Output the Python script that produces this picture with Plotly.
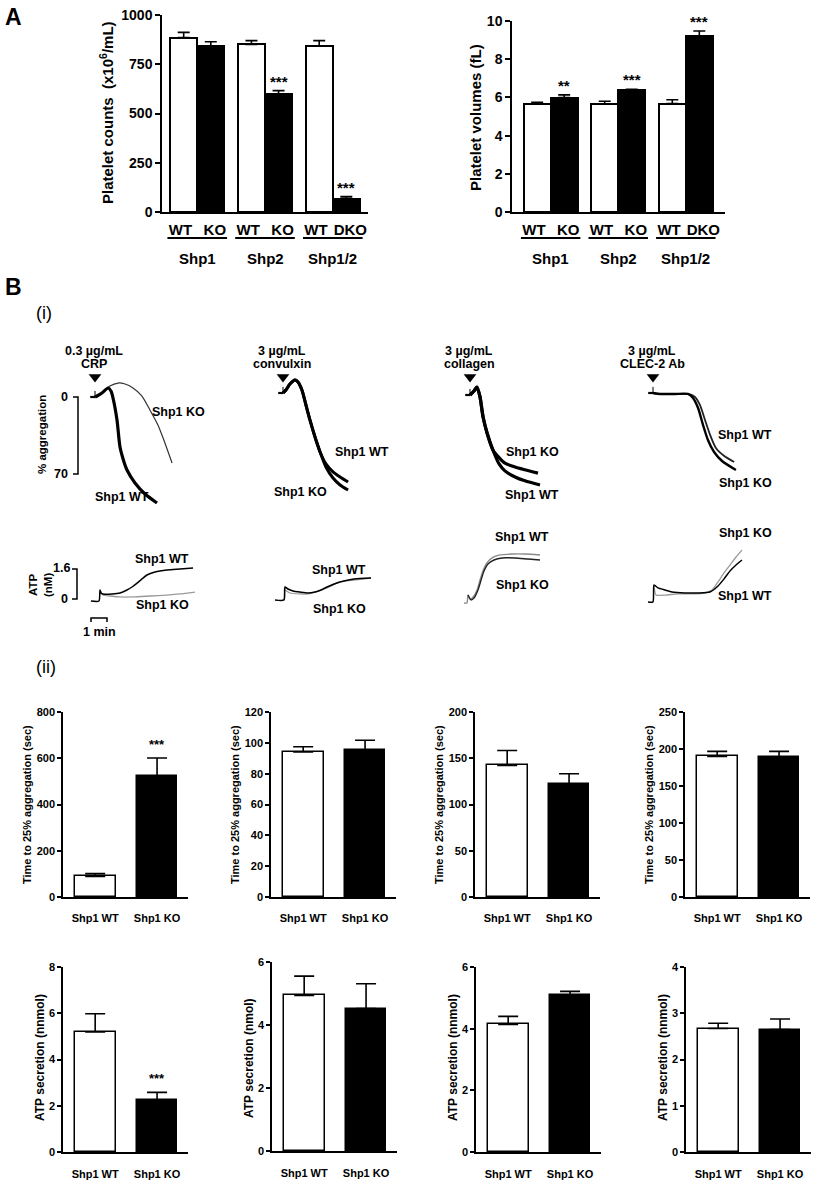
import plotly.graph_objects as go

W, H = 815, 1182
FONT = "Arial, Liberation Sans, Helvetica, sans-serif"

# ---------------- Panel A data ----------------
A_LABELS = ["WT", "KO", "WT", "KO", "WT", "DKO"]
A_POS = [0, 1, 2.5, 3.5, 5, 6]
A_GROUPS = ["Shp1", "Shp2", "Shp1/2"]
A_FILL = ["white", "black", "white", "black", "white", "black"]
COUNT_MEAN = [885, 843, 851, 599, 843, 68]
COUNT_ERR = [27, 21, 19, 17, 27, 10]
COUNT_SIG = ["", "", "", "***", "", "***"]
VOL_MEAN = [5.65, 5.99, 5.65, 6.38, 5.68, 9.23]
VOL_ERR = [0.09, 0.14, 0.15, 0.05, 0.2, 0.25]
VOL_SIG = ["", "**", "", "***", "", "***"]

# ---------------- Panel B(i) aggregation traces (t in s, % aggregation) ----------------
CRP_WT_T = [0, 7.5, 26, 49, 60, 67.5, 82.5, 93.75, 108.75, 120, 150, 187.5, 232.5]
CRP_WT_AGG = [0, -0.9, -3.6, -8.2, -5.5, 0.9, 20.9, 45.5, 59, 66.4, 78.2, 88.2, 96.4]
CRP_KO_T = [0, 7.5, 30, 56, 86, 112.5, 142.5, 176, 206, 236, 262.5, 289]
CRP_KO_AGG = [0, -0.9, -4.5, -10, -12.7, -11.8, -8.2, -0.9, 11.8, 25.5, 42, 60]

CVX_WT_T = [0, 11, 26, 45, 56, 71, 86, 101, 120, 139, 161, 187.5, 214, 244]
CVX_WT_AGG = [0, -2.7, -8.2, -11.8, -10, -2.7, 10.9, 24.5, 40, 53.6, 64.5, 71.8, 76.4, 81]
CVX_KO_T = [0, 11, 26, 45, 56, 71, 86, 101, 120, 139, 161, 187.5, 214, 244]
CVX_KO_AGG = [0, -2.7, -8.2, -11.8, -10, -2.7, 10.9, 24.5, 40, 53.6, 67.3, 77.3, 83.6, 88.2]

COL_KO_T = [0, 15, 26, 37.5, 49, 64, 86, 109, 131, 169, 206, 255]
COL_KO_AGG = [0, -3.6, -7.3, 1.8, 20, 34.5, 50, 57, 62, 65.5, 68, 71]
COL_WT_T = [0, 15, 26, 37.5, 49, 64, 86, 109, 131, 169, 206, 262.5]
COL_WT_AGG = [0, -3.6, -7.3, 1.8, 20, 34.5, 50, 62.7, 69, 74.5, 78, 81.8]

CLEC_WT_T = [0, 26, 82.5, 131, 157.5, 176, 195, 214, 236, 266, 304]
CLEC_WT_AGG = [0, 0.9, 0.9, 0.9, 3.6, 10.9, 24.5, 38, 50, 57, 62.7]
CLEC_KO_T = [0, 26, 82.5, 131, 150, 169, 187.5, 206, 229, 259, 311]
CLEC_KO_AGG = [0, 0.9, 0.9, 0.9, 4.5, 13.6, 29, 42.7, 53.6, 61.8, 70]

AGG_PRE_T = [-18, 0]
AGG_PRE = [0, 0]

# ---------------- Panel B(i) ATP traces (t in s, nM) ----------------
ATP_CRP_WT_T = [-34, -4, 0, 4, 11, 45, 75, 101, 120, 139, 157.5, 176, 206, 251, 300, 349]
ATP_CRP_WT = [-0.11, -0.11, 0.48, 0.32, 0.27, 0.27, 0.32, 0.48, 0.64, 0.85, 1.07, 1.28, 1.44, 1.55, 1.6, 1.65]
ATP_CRP_KO_T = [0, 11, 37.5, 75, 124, 187.5, 251, 300, 356]
ATP_CRP_KO = [0.48, 0.21, 0.16, 0.11, 0.11, 0.16, 0.21, 0.27, 0.37]

ATP_CVX_WT_T = [-37.5, -4, 0, 11, 30, 56, 86, 112.5, 135, 157.5, 184, 206, 259, 322.5]
ATP_CVX_WT = [-0.05, -0.05, 0.64, 0.53, 0.43, 0.37, 0.32, 0.37, 0.48, 0.64, 0.8, 0.91, 1.07, 1.12]
ATP_CVX_KO_T = [0, 19, 56, 86, 112.5, 157.5, 206, 259, 322.5]
ATP_CVX_KO = [0.48, 0.32, 0.27, 0.27, 0.37, 0.59, 0.91, 1.01, 1.12]

ATP_COL_A_T = [-15, -4, 0, 7.5, 19, 34, 45, 56, 71, 90, 120, 165, 214, 270]
ATP_COL_A = [-0.21, -0.21, 0.21, 0, 0.11, 0.48, 1.01, 1.49, 1.92, 2.19, 2.35, 2.4, 2.4, 2.35]
ATP_COL_B_T = [0, 11, 22.5, 37.5, 49, 60, 75, 97.5, 127.5, 176, 225, 270]
ATP_COL_B = [0.21, -0.05, 0.05, 0.48, 1.01, 1.49, 1.87, 2.08, 2.19, 2.19, 2.13, 2.08]

ATP_CLEC_WT_T = [-22.5, -4, 0, 15, 41, 67.5, 116, 165, 210, 240, 262.5, 285, 307.5, 330]
ATP_CLEC_WT = [-0.16, -0.16, 0.75, 0.59, 0.48, 0.37, 0.32, 0.32, 0.37, 0.69, 1.07, 1.49, 1.81, 2.08]
ATP_CLEC_KO_T = [0, 7.5, 41, 90, 135, 191, 217.5, 240, 262.5, 285, 307.5, 330]
ATP_CLEC_KO = [0.75, 0.21, 0.21, 0.27, 0.27, 0.32, 0.48, 0.91, 1.39, 1.81, 2.24, 2.61]

AGG_SCALE = [0, 70]
ATP_SCALE = [0, 1.6]
TIME_SCALE_S = 60

# ---------------- Panel B(ii) data ----------------
GENO = ["Shp1 WT", "Shp1 KO"]
TIME_MEAN = [[89, 523], [94.1, 95.2], [142.3, 121.8], [190, 189.2]]
TIME_ERR = [[12, 78], [3.4, 6.5], [16, 11.5], [6.8, 7.6]]
TIME_SIG = [["", "***"], ["", ""], ["", ""], ["", ""]]
TIME_MAX = [800, 120, 200, 250]
TIME_DTICK = [200, 20, 50, 50]
ATP_MEAN = [[5.19, 2.23], [4.94, 4.52], [4.14, 5.08], [2.67, 2.645]]
ATP_ERR = [[0.79, 0.35], [0.61, 0.79], [0.26, 0.13], [0.115, 0.23]]
ATP_SIG = [["", "***"], ["", ""], ["", ""], ["", ""]]
ATP_MAX = [8, 6, 6, 4]
ATP_DTICK = [2, 2, 2, 1]
ATP_TITLES = ["ATP secretion (nnmol)", "ATP secretion (nmol)",
              "ATP secretion (nnmol)", "ATP secretion (nnmol)"]

# ---------------- helpers ----------------
fig = go.Figure()
layout = {}
annotations = []
shapes = []


def refs(n):
    return ("x", "y") if n == 1 else (f"x{n}", f"y{n}")


def axes(n, L, R, T, B, xr, yr, xkw=None, ykw=None):
    xk = "xaxis" if n == 1 else f"xaxis{n}"
    yk = "yaxis" if n == 1 else f"yaxis{n}"
    rx, ry = refs(n)
    layout[xk] = dict(domain=[L / W, R / W], range=xr, anchor=ry, automargin=False, **(xkw or {}))
    layout[yk] = dict(domain=[1 - B / H, 1 - T / H], range=yr, anchor=rx, automargin=False, **(ykw or {}))
    return rx, ry


def ann(x, y, text, size=12, bold=True, xanchor="center", yanchor="middle", **kw):
    annotations.append(dict(
        x=x / W, y=1 - y / H, xref="paper", yref="paper", text=text, showarrow=False,
        xanchor=xanchor, yanchor=yanchor,
        font=dict(family=FONT, size=size, color="black", weight="bold" if bold else "normal"),
        **kw))


def bar_x(size, standoff, vals, texts):
    return dict(showline=True, linecolor="black", linewidth=1.5, ticks="", showgrid=False,
                zeroline=False, tickvals=vals, ticktext=texts, ticklabelstandoff=standoff,
                tickangle=0,
                tickfont=dict(family=FONT, size=size, color="black", weight="bold"))


def bar_y(size, dtick, ticklen=5):
    return dict(showline=True, linecolor="black", linewidth=1.5, ticks="outside", ticklen=ticklen,
                tickwidth=1.5, tickcolor="black", showgrid=False, zeroline=False, dtick=dtick,
                tickfont=dict(family=FONT, size=size, color="black", weight="bold"))


def add_bars(n, pos, means, errs, fills, width, capw, sig, sig_size, sig_shift, lw=1.5):
    rx, ry = refs(n)
    fig.add_trace(go.Bar(
        x=pos, y=means, width=width, xaxis=rx, yaxis=ry,
        marker=dict(color=fills, line=dict(color="black", width=lw)),
        error_y=dict(type="data", array=errs, arrayminus=[0] * len(errs), symmetric=False,
                     color="black", thickness=1.6, width=capw)))
    for p, m, e, s in zip(pos, means, errs, sig):
        if s:
            annotations.append(dict(
                x=p, y=m + e, xref=rx, yref=ry, text=s, showarrow=False, yanchor="bottom",
                yshift=sig_shift, font=dict(family=FONT, size=sig_size, color="black", weight="bold")))


# ---------------- Panel A ----------------
# tick labels sit slightly apart from the bar centres (WT left, KO right)
A_TICKS = [p + (-0.12 if k % 2 == 0 else 0.15) for k, p in enumerate(A_POS)]
axes(1, 162, 368, 15, 212, [-0.8, 6.8], [0, 1000],
     bar_x(15, 3, A_TICKS, A_LABELS), bar_y(14, 250))
add_bars(1, A_POS, COUNT_MEAN, COUNT_ERR, A_FILL, 1.0, 6, COUNT_SIG, 15, -1, lw=2)
axes(2, 512, 725, 21, 212, [-0.93, 6.95], [0, 10],
     bar_x(15, 3, A_TICKS, A_LABELS), bar_y(14, 2))
add_bars(2, A_POS, VOL_MEAN, VOL_ERR, A_FILL, 1.0, 6, VOL_SIG, 15, -1, lw=2)

for n in (1, 2):
    rx, ry = refs(n)
    for g, name in enumerate(A_GROUPS):
        c = (A_POS[2 * g] + A_POS[2 * g + 1]) / 2
        shapes.append(dict(type="line", xref=rx, yref="paper", x0=c - 1.1, x1=c + 1.1,
                           y0=1 - 238 / H, y1=1 - 238 / H, line=dict(color="black", width=2)))
        annotations.append(dict(x=c, y=1 - 258 / H, xref=rx, yref="paper", text=name,
                                showarrow=False, yanchor="middle",
                                font=dict(family=FONT, size=15, color="black", weight="bold")))

ann(107, 113, "Platelet counts  (x10<sup>6</sup>/mL)", size=15, textangle=-90)
ann(475, 118, "Platelet volumes (fL)", size=15, textangle=-90)
ann(3, 17, "A", size=23, xanchor="left")
ann(3, 287, "B", size=23, xanchor="left")
ann(34, 313, "(i)", size=18, bold=False, xanchor="left")
ann(34, 667, "(ii)", size=18, bold=False, xanchor="left")

# ---------------- Panel B(i) aggregation ----------------
SX = 16 / 60.0     # px per second
SY = 77 / 70.0     # px per % aggregation
SA = 30 / 1.6      # px per nM ATP

AGG_PANELS = [
    (95, 397, 55, 205, ["0.3 µg/mL", "CRP"],
     [(CRP_KO_T, CRP_KO_AGG, "#333333", 1.2), (CRP_WT_T, CRP_WT_AGG, "black", 3.2)],
     [("Shp1 KO", 178, 412), ("Shp1 WT", 122, 497)]),
    (283, 393, 255, 395, ["3 µg/mL", "convulxin"],
     [(CVX_KO_T, CVX_KO_AGG, "black", 3.0), (CVX_WT_T, CVX_WT_AGG, "black", 3.0)],
     [("Shp1 WT", 362, 452), ("Shp1 KO", 300, 492)]),
    (470, 395, 445, 585, ["3 µg/mL", "collagen"],
     [(COL_KO_T, COL_KO_AGG, "black", 3.2), (COL_WT_T, COL_WT_AGG, "black", 3.2)],
     [("Shp1 KO", 532, 452), ("Shp1 WT", 532, 495)]),
    (653, 393, 625, 775, ["3 µg/mL", "CLEC-2 Ab"],
     [(CLEC_WT_T, CLEC_WT_AGG, "#222222", 1.8), (CLEC_KO_T, CLEC_KO_AGG, "black", 2.4)],
     [("Shp1 WT", 745, 435), ("Shp1 KO", 745, 483)]),
]
T_AGG, B_AGG = 330, 515
for i, (t0, y0, L, R, agon, traces, labels) in enumerate(AGG_PANELS):
    n = 3 + i
    rx, ry = axes(n, L, R, T_AGG, B_AGG, [(L - t0) / SX, (R - t0) / SX],
                  [(B_AGG - y0) / SY, (T_AGG - y0) / SY],
                  dict(visible=False), dict(visible=False))
    fig.add_trace(go.Scatter(x=AGG_PRE_T, y=AGG_PRE, mode="lines", xaxis=rx, yaxis=ry,
                             line=dict(color="black", width=2.2)))
    fig.add_trace(go.Scatter(x=[0, 0], y=[0, -5.5], mode="lines", xaxis=rx, yaxis=ry,
                             line=dict(color="black", width=1)))
    for tt, yy, col, lw in traces:
        fig.add_trace(go.Scatter(x=tt, y=yy, mode="lines", xaxis=rx, yaxis=ry,
                                 line=dict(color=col, width=lw, shape="spline", smoothing=0.7)))
    fig.add_trace(go.Scatter(x=[0], y=[(377 - y0) / SY], mode="markers", xaxis=rx, yaxis=ry,
                             marker=dict(symbol="triangle-down", size=11, color="black")))
    ann(t0 - 1, 351, agon[0], size=12.5)
    ann(t0 - 1, 364, agon[1], size=12.5)
    for txt, lx, ly in labels:
        ann(lx, ly, txt, size=12.5)

# aggregation scale bar (in CRP panel)
rx, ry = refs(3)
sbx = (78 - 95) / SX
sbt = (73 - 95) / SX
fig.add_trace(go.Scatter(x=[sbt, sbx, sbx, sbt], y=[AGG_SCALE[0], AGG_SCALE[0], AGG_SCALE[1], AGG_SCALE[1]],
                         mode="lines", xaxis=rx, yaxis=ry, line=dict(color="black", width=1.5)))
ann(70, 397, str(AGG_SCALE[0]), size=12.5, xanchor="right")
ann(70, 474, str(AGG_SCALE[1]), size=12.5, xanchor="right")
ann(42, 435, "% aggregation", size=11.5, textangle=-90)

# ---------------- Panel B(i) ATP ----------------
ATP_PANELS = [
    (100, 55, 205, [(ATP_CRP_KO_T, ATP_CRP_KO, "#9a9a9a", 1.3), (ATP_CRP_WT_T, ATP_CRP_WT, "black", 1.5)],
     [("Shp1 WT", 162, 559), ("Shp1 KO", 162, 605)]),
    (285, 255, 395, [(ATP_CVX_KO_T, ATP_CVX_KO, "#9a9a9a", 1.3), (ATP_CVX_WT_T, ATP_CVX_WT, "black", 1.6)],
     [("Shp1 WT", 339, 570), ("Shp1 KO", 339, 609)]),
    (468, 445, 585, [(ATP_COL_A_T, ATP_COL_A, "#8a8a8a", 1.4), (ATP_COL_B_T, ATP_COL_B, "#222222", 1.4)],
     [("Shp1 WT", 522, 537), ("Shp1 KO", 522, 585)]),
    (654, 625, 775, [(ATP_CLEC_KO_T, ATP_CLEC_KO, "#9a9a9a", 1.3), (ATP_CLEC_WT_T, ATP_CLEC_WT, "black", 1.5)],
     [("Shp1 KO", 745, 533), ("Shp1 WT", 745, 596)]),
]
T_ATP, B_ATP, Y0_ATP = 520, 645, 599
for i, (t0, L, R, traces, labels) in enumerate(ATP_PANELS):
    n = 7 + i
    rx, ry = axes(n, L, R, T_ATP, B_ATP, [(L - t0) / SX, (R - t0) / SX],
                  [(Y0_ATP - B_ATP) / SA, (Y0_ATP - T_ATP) / SA],
                  dict(visible=False), dict(visible=False))
    for tt, yy, col, lw in traces:
        fig.add_trace(go.Scatter(x=tt, y=yy, mode="lines", xaxis=rx, yaxis=ry,
                                 line=dict(color=col, width=lw, shape="spline", smoothing=0.6)))
    for txt, lx, ly in labels:
        ann(lx, ly, txt, size=12.5)

# ATP and time scale bars (in CRP ATP panel)
rx, ry = refs(7)
ax_ = (77 - 100) / SX
at_ = (72 - 100) / SX
fig.add_trace(go.Scatter(x=[at_, ax_, ax_, at_], y=[ATP_SCALE[1], ATP_SCALE[1], ATP_SCALE[0], ATP_SCALE[0]],
                         mode="lines", xaxis=rx, yaxis=ry, line=dict(color="black", width=1.5)))
tx0 = (91 - 100) / SX
ty = (Y0_ATP - 618) / SA
tdrop = 4 / SA
fig.add_trace(go.Scatter(x=[tx0, tx0, tx0 + TIME_SCALE_S, tx0 + TIME_SCALE_S],
                         y=[ty - tdrop, ty, ty, ty - tdrop], mode="lines", xaxis=rx, yaxis=ry,
                         line=dict(color="black", width=1.5)))
ann(72, 568, "1.6", size=12.5, xanchor="right")
ann(70, 599, "0", size=12.5, xanchor="right")
ann(40, 585, "ATP<br>(nM)", size=11.5, textangle=-90)
ann(99, 632, "1 min", size=12.5)

# ---------------- Panel B(ii) ----------------
ROW1_L = [63, 271, 475, 685]
ROW2_L = [63, 272, 476, 686]
ROW2_TB = [(967, 1152), (962, 1151), (967, 1152), (967, 1152)]
BAR_W = 0.66
XR = [-0.52, 1.5]
FILL2 = ["white", "black"]
for i in range(4):
    n = 11 + i
    L = ROW1_L[i]
    axes(n, L, L + 125, 712, 897, XR, [0, TIME_MAX[i]],
         bar_x(11, 10, [0, 1], GENO), bar_y(11, TIME_DTICK[i], 4))
    add_bars(n, [0, 1], TIME_MEAN[i], TIME_ERR[i], FILL2, BAR_W, 10, TIME_SIG[i], 13, 4)
    ann(ROW1_L[i] - 36, 805, "Time to 25% aggregation (sec)", size=11, textangle=-90)

    n = 15 + i
    L = ROW2_L[i]
    T, B = ROW2_TB[i]
    axes(n, L, L + 125, T, B, XR, [0, ATP_MAX[i]],
         bar_x(11, 11, [0, 1], GENO), bar_y(11, ATP_DTICK[i], 4))
    add_bars(n, [0, 1], ATP_MEAN[i], ATP_ERR[i], FILL2, BAR_W, 10, ATP_SIG[i], 13, 4)
    ann(ROW2_L[i] - 23, 1058, ATP_TITLES[i], size=12, textangle=-90)

fig.update_layout(width=W, height=H, margin=dict(l=0, r=0, t=0, b=0, pad=0, autoexpand=False),
                  paper_bgcolor="white", plot_bgcolor="white", showlegend=False,
                  font=dict(family=FONT, color="black"), bargap=0,
                  annotations=annotations, shapes=shapes, **layout)
fig.write_html("out.html", config={"displayModeBar": False},
               post_script="document.body.style.margin='0';document.body.style.overflow='hidden';")
